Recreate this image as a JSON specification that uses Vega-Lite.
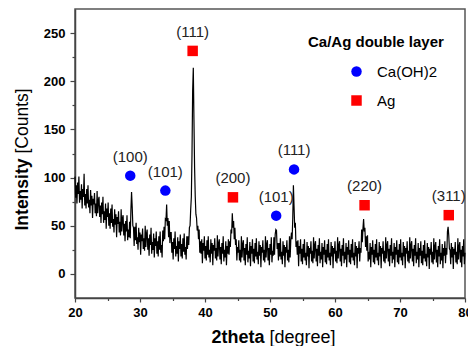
{
"$schema": "https://vega.github.io/schema/vega-lite/v6.json",
"width": 390, "height": 289,
"autosize": "none",
"padding": {"left": 75, "top": 9, "right": 3, "bottom": 48},
"background": "white",
"config": {"view": {"stroke": "#555", "strokeWidth": 1.5}, "font": "Liberation Sans"},
"datasets": {
"xrd": [
{"t":20.0,"c":101},{"t":20.1,"c":79},{"t":20.2,"c":92},{"t":20.3,"c":73},{"t":20.4,"c":95},{"t":20.5,"c":83},{"t":20.6,"c":101},{"t":20.7,"c":74},{"t":20.8,"c":86},{"t":20.9,"c":77},
{"t":21.0,"c":93},{"t":21.1,"c":68},{"t":21.2,"c":88},{"t":21.3,"c":80},{"t":21.4,"c":104},{"t":21.5,"c":71},{"t":21.6,"c":83},{"t":21.7,"c":68},{"t":21.8,"c":88},{"t":21.9,"c":73},
{"t":22.0,"c":92},{"t":22.1,"c":69},{"t":22.2,"c":77},{"t":22.3,"c":63},{"t":22.4,"c":87},{"t":22.5,"c":71},{"t":22.6,"c":81},{"t":22.7,"c":58},{"t":22.8,"c":78},{"t":22.9,"c":72},
{"t":23.0,"c":84},{"t":23.1,"c":63},{"t":23.2,"c":73},{"t":23.3,"c":60},{"t":23.4,"c":86},{"t":23.5,"c":63},{"t":23.6,"c":77},{"t":23.7,"c":80},{"t":23.8,"c":59},{"t":23.9,"c":71},
{"t":24.0,"c":53},{"t":24.1,"c":74},{"t":24.2,"c":62},{"t":24.3,"c":80},{"t":24.4,"c":53},{"t":24.5,"c":65},{"t":24.6,"c":56},{"t":24.7,"c":73},{"t":24.8,"c":47},{"t":24.9,"c":68},
{"t":25.0,"c":59},{"t":25.1,"c":74},{"t":25.2,"c":50},{"t":25.3,"c":63},{"t":25.4,"c":47},{"t":25.5,"c":68},{"t":25.6,"c":53},{"t":25.7,"c":72},{"t":25.8,"c":49},{"t":25.9,"c":57},
{"t":26.0,"c":43},{"t":26.1,"c":67},{"t":26.2,"c":51},{"t":26.3,"c":62},{"t":26.4,"c":38},{"t":26.5,"c":59},{"t":26.6,"c":52},{"t":26.7,"c":65},{"t":26.8,"c":43},{"t":26.9,"c":54},
{"t":27.0,"c":40},{"t":27.1,"c":67},{"t":27.2,"c":44},{"t":27.3,"c":58},{"t":27.4,"c":61},{"t":27.5,"c":40},{"t":27.6,"c":52},{"t":27.7,"c":34},{"t":27.8,"c":55},{"t":27.9,"c":44},
{"t":28.0,"c":61},{"t":28.1,"c":35},{"t":28.2,"c":46},{"t":28.3,"c":38},{"t":28.4,"c":54},{"t":28.5,"c":37},{"t":28.6,"c":66},{"t":28.7,"c":85},{"t":28.8,"c":70},{"t":28.9,"c":50},
{"t":29.0,"c":48},{"t":29.1,"c":29},{"t":29.2,"c":49},{"t":29.3,"c":35},{"t":29.4,"c":53},{"t":29.5,"c":31},{"t":29.6,"c":38},{"t":29.7,"c":25},{"t":29.8,"c":48},{"t":29.9,"c":33},
{"t":30.0,"c":43},{"t":30.1,"c":20},{"t":30.2,"c":41},{"t":30.3,"c":34},{"t":30.4,"c":47},{"t":30.5,"c":26},{"t":30.6,"c":37},{"t":30.7,"c":24},{"t":30.8,"c":50},{"t":30.9,"c":28},
{"t":31.0,"c":42},{"t":31.1,"c":46},{"t":31.2,"c":25},{"t":31.3,"c":37},{"t":31.4,"c":19},{"t":31.5,"c":41},{"t":31.6,"c":30},{"t":31.7,"c":48},{"t":31.8,"c":21},{"t":31.9,"c":33},
{"t":32.0,"c":25},{"t":32.1,"c":42},{"t":32.2,"c":17},{"t":32.3,"c":37},{"t":32.4,"c":29},{"t":32.5,"c":44},{"t":32.6,"c":21},{"t":32.7,"c":34},{"t":32.8,"c":18},{"t":32.9,"c":39},
{"t":33.0,"c":25},{"t":33.1,"c":44},{"t":33.2,"c":22},{"t":33.3,"c":30},{"t":33.4,"c":17},{"t":33.5,"c":45},{"t":33.6,"c":34},{"t":33.7,"c":49},{"t":33.8,"c":36},{"t":33.9,"c":57},
{"t":34.0,"c":56},{"t":34.1,"c":72},{"t":34.2,"c":50},{"t":34.3,"c":58},{"t":34.4,"c":38},{"t":34.5,"c":55},{"t":34.6,"c":32},{"t":34.7,"c":43},{"t":34.8,"c":43},{"t":34.9,"c":22},
{"t":35.0,"c":33},{"t":35.1,"c":15},{"t":35.2,"c":37},{"t":35.3,"c":26},{"t":35.4,"c":44},{"t":35.5,"c":18},{"t":35.6,"c":29},{"t":35.7,"c":21},{"t":35.8,"c":38},{"t":35.9,"c":13},
{"t":36.0,"c":34},{"t":36.1,"c":26},{"t":36.2,"c":41},{"t":36.3,"c":18},{"t":36.4,"c":31},{"t":36.5,"c":16},{"t":36.6,"c":37},{"t":36.7,"c":23},{"t":36.8,"c":42},{"t":36.9,"c":20},
{"t":37.0,"c":28},{"t":37.1,"c":15},{"t":37.2,"c":39},{"t":37.3,"c":26},{"t":37.4,"c":39},{"t":37.5,"c":30},{"t":37.6,"c":48},{"t":37.7,"c":50},{"t":37.8,"c":67},{"t":37.9,"c":80},
{"t":38.0,"c":124},{"t":38.1,"c":190},{"t":38.2,"c":214},{"t":38.3,"c":160},{"t":38.4,"c":110},{"t":38.5,"c":80},{"t":38.6,"c":62},{"t":38.7,"c":58},{"t":38.8,"c":45},{"t":38.9,"c":50},
{"t":39.0,"c":36},{"t":39.1,"c":46},{"t":39.2,"c":22},{"t":39.3,"c":34},{"t":39.4,"c":21},{"t":39.5,"c":36},{"t":39.6,"c":11},{"t":39.7,"c":32},{"t":39.8,"c":24},{"t":39.9,"c":39},
{"t":40.0,"c":16},{"t":40.1,"c":29},{"t":40.2,"c":14},{"t":40.3,"c":35},{"t":40.4,"c":20},{"t":40.5,"c":39},{"t":40.6,"c":17},{"t":40.7,"c":25},{"t":40.8,"c":12},{"t":40.9,"c":36},
{"t":41.0,"c":21},{"t":41.1,"c":32},{"t":41.2,"c":9},{"t":41.3,"c":30},{"t":41.4,"c":24},{"t":41.5,"c":37},{"t":41.6,"c":16},{"t":41.7,"c":27},{"t":41.8,"c":14},{"t":41.9,"c":40},
{"t":42.0,"c":18},{"t":42.1,"c":32},{"t":42.2,"c":36},{"t":42.3,"c":15},{"t":42.4,"c":28},{"t":42.5,"c":10},{"t":42.6,"c":32},{"t":42.7,"c":21},{"t":42.8,"c":39},{"t":42.9,"c":13},
{"t":43.0,"c":25},{"t":43.1,"c":17},{"t":43.2,"c":34},{"t":43.3,"c":9},{"t":43.4,"c":29},{"t":43.5,"c":21},{"t":43.6,"c":36},{"t":43.7,"c":20},{"t":43.8,"c":34},{"t":43.9,"c":28},
{"t":44.0,"c":46},{"t":44.1,"c":42},{"t":44.2,"c":63},{"t":44.3,"c":48},{"t":44.4,"c":55},{"t":44.5,"c":36},{"t":44.6,"c":48},{"t":44.7,"c":30},{"t":44.8,"c":36},{"t":44.9,"c":14},
{"t":45.0,"c":28},{"t":45.1,"c":22},{"t":45.2,"c":35},{"t":45.3,"c":14},{"t":45.4,"c":25},{"t":45.5,"c":12},{"t":45.6,"c":39},{"t":45.7,"c":17},{"t":45.8,"c":31},{"t":45.9,"c":35},
{"t":46.0,"c":14},{"t":46.1,"c":27},{"t":46.2,"c":9},{"t":46.3,"c":31},{"t":46.4,"c":20},{"t":46.5,"c":38},{"t":46.6,"c":12},{"t":46.7,"c":24},{"t":46.8,"c":16},{"t":46.9,"c":33},
{"t":47.0,"c":8},{"t":47.1,"c":29},{"t":47.2,"c":21},{"t":47.3,"c":36},{"t":47.4,"c":13},{"t":47.5,"c":26},{"t":47.6,"c":11},{"t":47.7,"c":32},{"t":47.8,"c":18},{"t":47.9,"c":37},
{"t":48.0,"c":15},{"t":48.1,"c":23},{"t":48.2,"c":10},{"t":48.3,"c":34},{"t":48.4,"c":19},{"t":48.5,"c":30},{"t":48.6,"c":7},{"t":48.7,"c":28},{"t":48.8,"c":22},{"t":48.9,"c":35},
{"t":49.0,"c":14},{"t":49.1,"c":25},{"t":49.2,"c":12},{"t":49.3,"c":39},{"t":49.4,"c":17},{"t":49.5,"c":31},{"t":49.6,"c":35},{"t":49.7,"c":14},{"t":49.8,"c":27},{"t":49.9,"c":9},
{"t":50.0,"c":31},{"t":50.1,"c":20},{"t":50.2,"c":38},{"t":50.3,"c":12},{"t":50.4,"c":24},{"t":50.5,"c":19},{"t":50.6,"c":38},{"t":50.7,"c":20},{"t":50.8,"c":41},{"t":50.9,"c":46},
{"t":51.0,"c":45},{"t":51.1,"c":26},{"t":51.2,"c":32},{"t":51.3,"c":14},{"t":51.4,"c":32},{"t":51.5,"c":18},{"t":51.6,"c":37},{"t":51.7,"c":15},{"t":51.8,"c":23},{"t":51.9,"c":10},
{"t":52.0,"c":34},{"t":52.1,"c":19},{"t":52.2,"c":30},{"t":52.3,"c":7},{"t":52.4,"c":28},{"t":52.5,"c":22},{"t":52.6,"c":35},{"t":52.7,"c":14},{"t":52.8,"c":25},{"t":52.9,"c":12},
{"t":53.0,"c":39},{"t":53.1,"c":17},{"t":53.2,"c":35},{"t":53.3,"c":43},{"t":53.4,"c":36},{"t":53.5,"c":57},{"t":53.6,"c":92},{"t":53.7,"c":70},{"t":53.8,"c":48},{"t":53.9,"c":53},
{"t":54.0,"c":28},{"t":54.1,"c":34},{"t":54.2,"c":20},{"t":54.3,"c":35},{"t":54.4,"c":8},{"t":54.5,"c":29},{"t":54.6,"c":21},{"t":54.7,"c":36},{"t":54.8,"c":13},{"t":54.9,"c":26},
{"t":55.0,"c":10},{"t":55.1,"c":31},{"t":55.2,"c":17},{"t":55.3,"c":36},{"t":55.4,"c":14},{"t":55.5,"c":22},{"t":55.6,"c":9},{"t":55.7,"c":33},{"t":55.8,"c":18},{"t":55.9,"c":29},
{"t":56.0,"c":6},{"t":56.1,"c":27},{"t":56.2,"c":21},{"t":56.3,"c":34},{"t":56.4,"c":13},{"t":56.5,"c":24},{"t":56.6,"c":11},{"t":56.7,"c":38},{"t":56.8,"c":16},{"t":56.9,"c":30},
{"t":57.0,"c":34},{"t":57.1,"c":13},{"t":57.2,"c":26},{"t":57.3,"c":8},{"t":57.4,"c":30},{"t":57.5,"c":19},{"t":57.6,"c":37},{"t":57.7,"c":11},{"t":57.8,"c":23},{"t":57.9,"c":15},
{"t":58.0,"c":32},{"t":58.1,"c":7},{"t":58.2,"c":28},{"t":58.3,"c":20},{"t":58.4,"c":35},{"t":58.5,"c":12},{"t":58.6,"c":25},{"t":58.7,"c":10},{"t":58.8,"c":31},{"t":58.9,"c":17},
{"t":59.0,"c":36},{"t":59.1,"c":14},{"t":59.2,"c":22},{"t":59.3,"c":9},{"t":59.4,"c":33},{"t":59.5,"c":18},{"t":59.6,"c":29},{"t":59.7,"c":6},{"t":59.8,"c":27},{"t":59.9,"c":21},
{"t":60.0,"c":34},{"t":60.1,"c":13},{"t":60.2,"c":24},{"t":60.3,"c":11},{"t":60.4,"c":38},{"t":60.5,"c":16},{"t":60.6,"c":30},{"t":60.7,"c":34},{"t":60.8,"c":13},{"t":60.9,"c":26},
{"t":61.0,"c":8},{"t":61.1,"c":30},{"t":61.2,"c":19},{"t":61.3,"c":37},{"t":61.4,"c":11},{"t":61.5,"c":23},{"t":61.6,"c":15},{"t":61.7,"c":32},{"t":61.8,"c":7},{"t":61.9,"c":28},
{"t":62.0,"c":20},{"t":62.1,"c":35},{"t":62.2,"c":12},{"t":62.3,"c":25},{"t":62.4,"c":10},{"t":62.5,"c":31},{"t":62.6,"c":17},{"t":62.7,"c":36},{"t":62.8,"c":14},{"t":62.9,"c":22},
{"t":63.0,"c":9},{"t":63.1,"c":33},{"t":63.2,"c":18},{"t":63.3,"c":29},{"t":63.4,"c":6},{"t":63.5,"c":27},{"t":63.6,"c":21},{"t":63.7,"c":34},{"t":63.8,"c":13},{"t":63.9,"c":27},
{"t":64.0,"c":22},{"t":64.1,"c":46},{"t":64.2,"c":33},{"t":64.3,"c":47},{"t":64.4,"c":57},{"t":64.5,"c":44},{"t":64.6,"c":48},{"t":64.7,"c":28},{"t":64.8,"c":39},{"t":64.9,"c":24},
{"t":65.0,"c":40},{"t":65.1,"c":13},{"t":65.2,"c":23},{"t":65.3,"c":15},{"t":65.4,"c":32},{"t":65.5,"c":7},{"t":65.6,"c":28},{"t":65.7,"c":20},{"t":65.8,"c":35},{"t":65.9,"c":12},
{"t":66.0,"c":25},{"t":66.1,"c":10},{"t":66.2,"c":31},{"t":66.3,"c":17},{"t":66.4,"c":36},{"t":66.5,"c":14},{"t":66.6,"c":22},{"t":66.7,"c":9},{"t":66.8,"c":33},{"t":66.9,"c":18},
{"t":67.0,"c":29},{"t":67.1,"c":6},{"t":67.2,"c":27},{"t":67.3,"c":21},{"t":67.4,"c":34},{"t":67.5,"c":13},{"t":67.6,"c":24},{"t":67.7,"c":11},{"t":67.8,"c":38},{"t":67.9,"c":16},
{"t":68.0,"c":30},{"t":68.1,"c":34},{"t":68.2,"c":13},{"t":68.3,"c":26},{"t":68.4,"c":8},{"t":68.5,"c":30},{"t":68.6,"c":19},{"t":68.7,"c":37},{"t":68.8,"c":11},{"t":68.9,"c":23},
{"t":69.0,"c":15},{"t":69.1,"c":32},{"t":69.2,"c":7},{"t":69.3,"c":28},{"t":69.4,"c":20},{"t":69.5,"c":35},{"t":69.6,"c":12},{"t":69.7,"c":25},{"t":69.8,"c":10},{"t":69.9,"c":31},
{"t":70.0,"c":17},{"t":70.1,"c":36},{"t":70.2,"c":14},{"t":70.3,"c":22},{"t":70.4,"c":9},{"t":70.5,"c":33},{"t":70.6,"c":18},{"t":70.7,"c":29},{"t":70.8,"c":6},{"t":70.9,"c":27},
{"t":71.0,"c":21},{"t":71.1,"c":34},{"t":71.2,"c":13},{"t":71.3,"c":24},{"t":71.4,"c":11},{"t":71.5,"c":38},{"t":71.6,"c":16},{"t":71.7,"c":30},{"t":71.8,"c":34},{"t":71.9,"c":13},
{"t":72.0,"c":26},{"t":72.1,"c":8},{"t":72.2,"c":30},{"t":72.3,"c":19},{"t":72.4,"c":37},{"t":72.5,"c":11},{"t":72.6,"c":23},{"t":72.7,"c":15},{"t":72.8,"c":32},{"t":72.9,"c":7},
{"t":73.0,"c":27},{"t":73.1,"c":19},{"t":73.2,"c":34},{"t":73.3,"c":11},{"t":73.4,"c":24},{"t":73.5,"c":9},{"t":73.6,"c":30},{"t":73.7,"c":16},{"t":73.8,"c":35},{"t":73.9,"c":13},
{"t":74.0,"c":21},{"t":74.1,"c":8},{"t":74.2,"c":32},{"t":74.3,"c":17},{"t":74.4,"c":28},{"t":74.5,"c":5},{"t":74.6,"c":26},{"t":74.7,"c":20},{"t":74.8,"c":33},{"t":74.9,"c":12},
{"t":75.0,"c":23},{"t":75.1,"c":10},{"t":75.2,"c":37},{"t":75.3,"c":15},{"t":75.4,"c":29},{"t":75.5,"c":33},{"t":75.6,"c":12},{"t":75.7,"c":25},{"t":75.8,"c":7},{"t":75.9,"c":29},
{"t":76.0,"c":18},{"t":76.1,"c":36},{"t":76.2,"c":10},{"t":76.3,"c":22},{"t":76.4,"c":14},{"t":76.5,"c":31},{"t":76.6,"c":6},{"t":76.7,"c":27},{"t":76.8,"c":19},{"t":76.9,"c":34},
{"t":77.0,"c":11},{"t":77.1,"c":27},{"t":77.2,"c":20},{"t":77.3,"c":44},{"t":77.4,"c":49},{"t":77.5,"c":40},{"t":77.6,"c":26},{"t":77.7,"c":25},{"t":77.8,"c":10},{"t":77.9,"c":32},
{"t":78.0,"c":17},{"t":78.1,"c":28},{"t":78.2,"c":5},{"t":78.3,"c":26},{"t":78.4,"c":20},{"t":78.5,"c":33},{"t":78.6,"c":12},{"t":78.7,"c":23},{"t":78.8,"c":10},{"t":78.9,"c":37},
{"t":79.0,"c":15},{"t":79.1,"c":29},{"t":79.2,"c":33},{"t":79.3,"c":12},{"t":79.4,"c":25},{"t":79.5,"c":7},{"t":79.6,"c":29},{"t":79.7,"c":18},{"t":79.8,"c":36},{"t":79.9,"c":10},
{"t":80.0,"c":22}
],
"peaks": [
{"t":28.5,"c":102,"phase":"Ca(OH)2","hkl":"(100)"},
{"t":33.9,"c":86.5,"phase":"Ca(OH)2","hkl":"(101)"},
{"t":38.1,"c":231.5,"phase":"Ag","hkl":"(111)"},
{"t":44.3,"c":79.5,"phase":"Ag","hkl":"(200)"},
{"t":50.95,"c":60.5,"phase":"Ca(OH)2","hkl":"(101)"},
{"t":53.7,"c":108.5,"phase":"Ca(OH)2","hkl":"(111)"},
{"t":64.55,"c":71.3,"phase":"Ag","hkl":"(220)"},
{"t":77.5,"c":61,"phase":"Ag","hkl":"(311)"}
]
},
"layer": [
{
"data": {"name": "xrd"},
"mark": {"type": "line", "color": "black", "strokeWidth": 1.2},
"encoding": {
"x": {"field": "t", "type": "quantitative", "scale": {"domain": [20, 80], "nice": false, "zero": false},
"axis": {"values": [20,25,30,35,40,45,50,55,60,65,70,75,80], "labelExpr": "datum.value % 10 === 0 ? datum.label : ''",
"tickSize": {"condition": {"test": "datum.value % 10 === 0", "value": 4}, "value": 2.5},
"grid": false, "labelFont": "Liberation Sans", "labelFontSize": 13, "labelFontWeight": "bold", "labelColor": "black", "labelPadding": 4, "labelFlush": false, "labelOverlap": false,
"title": "2theta", "titleFont": "Liberation Sans", "titleFontSize": 18, "titleFontWeight": "bold", "titleColor": "black", "titleX": 189, "titleY": 44, "titleAlign": "right", "titleBaseline": "alphabetic",
"domainColor": "#444", "domainWidth": 1.5, "tickColor": "#444", "tickWidth": 1.2}},
"y": {"field": "c", "type": "quantitative", "scale": {"domain": [-25, 275], "nice": false, "zero": false},
"axis": {"values": [0,25,50,75,100,125,150,175,200,225,250], "labelExpr": "datum.value % 50 === 0 ? datum.label : ''",
"tickSize": {"condition": {"test": "datum.value % 50 === 0", "value": 5}, "value": 3},
"grid": false, "labelFont": "Liberation Sans", "labelFontSize": 13, "labelFontWeight": "bold", "labelColor": "black", "labelPadding": 5, "labelOverlap": false,
"title": "Intensity", "titleFont": "Liberation Sans", "titleFontSize": 17.5, "titleFontWeight": "bold", "titleColor": "black", "titleAngle": 270, "titleX": -48, "titleY": 221, "titleAlign": "left", "titleBaseline": "alphabetic",
"domainColor": "#444", "domainWidth": 1.5, "tickColor": "#444", "tickWidth": 1.2}}
}
},
{
"data": {"name": "peaks"},
"mark": {"type": "point", "filled": true, "size": 110, "opacity": 1},
"encoding": {
"x": {"field": "t", "type": "quantitative",
"axis": {"orient": "bottom", "title": "[degree]", "labels": false, "ticks": false, "domain": false, "grid": false,
"titleFont": "Liberation Sans", "titleFontSize": 18, "titleFontWeight": "normal", "titleColor": "black", "titleX": 194, "titleY": 44, "titleAlign": "left", "titleBaseline": "alphabetic"}},
"y": {"field": "c", "type": "quantitative",
"axis": {"orient": "left", "title": "[Counts]", "labels": false, "ticks": false, "domain": false, "grid": false,
"titleFont": "Liberation Sans", "titleFontSize": 17.5, "titleFontWeight": "normal", "titleColor": "black", "titleAngle": 270, "titleX": -48, "titleY": 144, "titleAlign": "left", "titleBaseline": "alphabetic"}},
"color": {"field": "phase", "type": "nominal", "scale": {"domain": ["Ca(OH)2", "Ag"], "range": ["#0000ff", "#ff0000"]},
"legend": {"title": "Ca/Ag double layer", "orient": "none", "legendX": 233, "legendY": 26, "padding": 0,
"titleFont": "Liberation Sans", "titleFontSize": 15, "titleFontWeight": "bold", "titleColor": "black", "titlePadding": 14,
"labelFont": "Liberation Sans", "labelFontSize": 15, "labelColor": "black", "symbolSize": 110, "symbolOffset": 41, "labelOffset": 13, "rowPadding": 13, "symbolStrokeWidth": 0}},
"shape": {"field": "phase", "type": "nominal", "scale": {"domain": ["Ca(OH)2", "Ag"], "range": ["circle", "square"]},
"legend": {"title": "Ca/Ag double layer", "orient": "none", "legendX": 233, "legendY": 26, "padding": 0,
"titleFont": "Liberation Sans", "titleFontSize": 15, "titleFontWeight": "bold", "titleColor": "black", "titlePadding": 14,
"labelFont": "Liberation Sans", "labelFontSize": 15, "labelColor": "black", "symbolSize": 110, "symbolOffset": 41, "labelOffset": 13, "rowPadding": 13, "symbolStrokeWidth": 0}}
}
},
{
"data": {"name": "peaks"},
"mark": {"type": "text", "dy": -19, "fontSize": 15, "font": "Liberation Sans", "color": "#222", "baseline": "middle"},
"encoding": {
"x": {"field": "t", "type": "quantitative", "axis": null},
"y": {"field": "c", "type": "quantitative", "axis": null},
"text": {"field": "hkl"}
}
}
],
"resolve": {"axis": {"x": "independent", "y": "independent"}}
}
